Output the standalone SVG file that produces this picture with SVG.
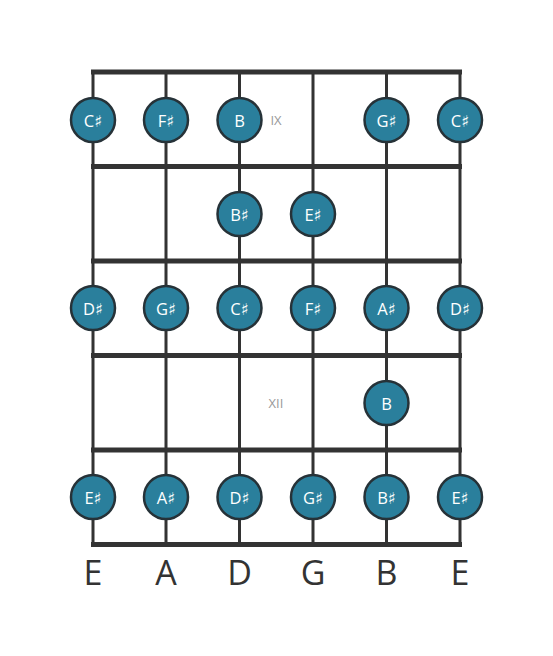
<svg xmlns="http://www.w3.org/2000/svg" width="553" height="656" viewBox="0 0 553 656">
<style>
.str{stroke:#333;stroke-width:3}
.fret{stroke:#333;stroke-width:5}
.dot circle{fill:#2a7f9c;stroke:#263238;stroke-width:2.5}
.dot text{fill:#fff;font-family:"Open Sans","DejaVu Sans",sans-serif;font-size:16.5px;text-anchor:middle;dominant-baseline:central}
.pos{fill:#999;font-family:"Open Sans",sans-serif;font-size:13px;text-anchor:middle;dominant-baseline:central}
.lbl{fill:#333;font-family:"Open Sans",sans-serif;font-size:34px;text-anchor:middle}
</style>
<rect width="553" height="656" fill="#fff"/>
<g id="connectors">
<line class="str" x1="93" y1="72" x2="93" y2="545"/>
<line class="str" x1="166" y1="72" x2="166" y2="545"/>
<line class="str" x1="239.5" y1="72" x2="239.5" y2="545"/>
<line class="str" x1="313" y1="72" x2="313" y2="545"/>
<line class="str" x1="386.5" y1="72" x2="386.5" y2="545"/>
<line class="str" x1="460" y1="72" x2="460" y2="545"/>
<line class="fret" x1="91" y1="72" x2="462" y2="72"/>
<line class="fret" x1="91" y1="166.5" x2="462" y2="166.5"/>
<line class="fret" x1="91" y1="261" x2="462" y2="261"/>
<line class="fret" x1="91" y1="355.5" x2="462" y2="355.5"/>
<line class="fret" x1="91" y1="450" x2="462" y2="450"/>
<line class="fret" x1="91" y1="544.5" x2="462" y2="544.5"/>
</g>
<text class="pos" x="276" y="120">IX</text>
<text class="pos" x="276" y="403">XII</text>
<g id="n1" class="dot"><circle cx="93" cy="120" r="22"/><text x="93" y="120">C♯</text></g>
<g id="n2" class="dot"><circle cx="166" cy="120" r="22"/><text x="166" y="120">F♯</text></g>
<g id="n3" class="dot"><circle cx="239.5" cy="120" r="22"/><text x="239.5" y="120">B</text></g>
<g id="n4" class="dot"><circle cx="386.5" cy="120" r="22"/><text x="386.5" y="120">G♯</text></g>
<g id="n5" class="dot"><circle cx="460" cy="120" r="22"/><text x="460" y="120">C♯</text></g>
<g id="n6" class="dot"><circle cx="239.5" cy="214" r="22"/><text x="239.5" y="214">B♯</text></g>
<g id="n7" class="dot"><circle cx="313" cy="214" r="22"/><text x="313" y="214">E♯</text></g>
<g id="n8" class="dot"><circle cx="93" cy="308" r="22"/><text x="93" y="308">D♯</text></g>
<g id="n9" class="dot"><circle cx="166" cy="308" r="22"/><text x="166" y="308">G♯</text></g>
<g id="n10" class="dot"><circle cx="239.5" cy="308" r="22"/><text x="239.5" y="308">C♯</text></g>
<g id="n11" class="dot"><circle cx="313" cy="308" r="22"/><text x="313" y="308">F♯</text></g>
<g id="n12" class="dot"><circle cx="386.5" cy="308" r="22"/><text x="386.5" y="308">A♯</text></g>
<g id="n13" class="dot"><circle cx="460" cy="308" r="22"/><text x="460" y="308">D♯</text></g>
<g id="n14" class="dot"><circle cx="386.5" cy="403" r="22"/><text x="386.5" y="403">B</text></g>
<g id="n15" class="dot"><circle cx="93" cy="497" r="22"/><text x="93" y="497">E♯</text></g>
<g id="n16" class="dot"><circle cx="166" cy="497" r="22"/><text x="166" y="497">A♯</text></g>
<g id="n17" class="dot"><circle cx="239.5" cy="497" r="22"/><text x="239.5" y="497">D♯</text></g>
<g id="n18" class="dot"><circle cx="313" cy="497" r="22"/><text x="313" y="497">G♯</text></g>
<g id="n19" class="dot"><circle cx="386.5" cy="497" r="22"/><text x="386.5" y="497">B♯</text></g>
<g id="n20" class="dot"><circle cx="460" cy="497" r="22"/><text x="460" y="497">E♯</text></g>
<text class="lbl" x="93" y="585">E</text>
<text class="lbl" x="166" y="585">A</text>
<text class="lbl" x="239.5" y="585">D</text>
<text class="lbl" x="313" y="585">G</text>
<text class="lbl" x="386.5" y="585">B</text>
<text class="lbl" x="460" y="585">E</text>
</svg>
